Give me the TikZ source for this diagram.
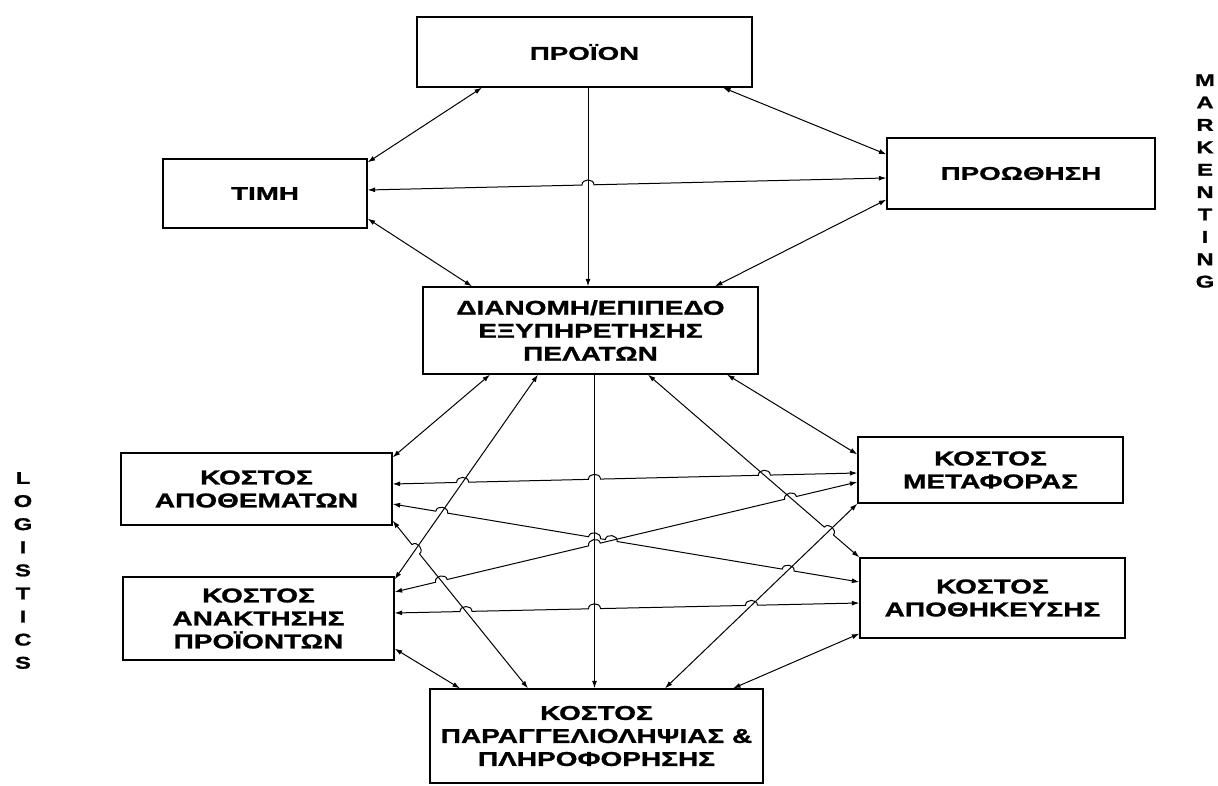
\documentclass[tikz,border=0pt]{standalone}
\usepackage{fontspec}
\newfontfamily\bxa{Liberation Sans}[FakeStretch=1.4,FakeBold=1.2]
\newfontfamily\bxb{Liberation Sans}[FakeStretch=1.5,FakeBold=1.2]
\usetikzlibrary{arrows.meta,calc}
\tikzset{
 box/.style={draw, line width=1.3pt, inner sep=0pt, align=center, font=\bxa\bfseries\fontsize{20}{23}\selectfont},
 topbox/.style={box, font=\bxb\bfseries\fontsize{18.5}{22}\selectfont},
 dbl/.style={{Latex[length=7.5pt,width=5pt]}-{Latex[length=7.5pt,width=5pt]}, line width=1pt},
 one/.style={-{Latex[length=7.5pt,width=5pt]}, line width=1pt},
 side/.style={align=center, font=\bxa\bfseries\fontsize{17}{22.4}\selectfont, inner sep=0pt},
}
\newcommand{\hh}[3]{-- ($(#1)!6pt!(#2)$) to[bend left=90,looseness=1.4] ($(#1)!6pt!(#3)$)}
\begin{document}
\begin{tikzpicture}[x=1pt,y=1pt]
\fill[white] (0,0) rectangle (1218,785);
\useasboundingbox (0,0) rectangle (1218,785);
% boxes
\node[topbox, minimum width=335pt, minimum height=70pt] (pr) at (584.5,733) {ΠΡΟΪΟΝ};
\node[topbox, minimum width=204pt, minimum height=69pt] (ti) at (265,591.5) {ΤΙΜΗ};
\node[topbox, minimum width=268pt, minimum height=71pt] (pro) at (1021,611.5) {ΠΡΟΩΘΗΣΗ};
\node[box, minimum width=335pt, minimum height=87pt] (di) at (590.5,454.5) {ΔΙΑΝΟΜΗ/ΕΠΙΠΕΔΟ\\ΕΞΥΠΗΡΕΤΗΣΗΣ\\ΠΕΛΑΤΩΝ};
\node[box, minimum width=271pt, minimum height=72pt] (ap) at (256.5,296) {ΚΟΣΤΟΣ\\ΑΠΟΘΕΜΑΤΩΝ};
\node[box, minimum width=271pt, minimum height=83pt] (an) at (258.5,166.5) {ΚΟΣΤΟΣ\\ΑΝΑΚΤΗΣΗΣ\\ΠΡΟΪΟΝΤΩΝ};
\node[box, minimum width=265pt, minimum height=66pt] (me) at (990.5,315) {ΚΟΣΤΟΣ\\ΜΕΤΑΦΟΡΑΣ};
\node[box, minimum width=265pt, minimum height=80pt] (ah) at (992.5,187) {ΚΟΣΤΟΣ\\ΑΠΟΘΗΚΕΥΣΗΣ};
\node[box, minimum width=333pt, minimum height=94pt] (pa) at (596.5,49) {ΚΟΣΤΟΣ\\ΠΑΡΑΓΓΕΛΙΟΛΗΨΙΑΣ \&\\ΠΛΗΡΟΦΟΡΗΣΗΣ};
\node[side] (mk) at (1205,604) {M\\A\\R\\K\\E\\N\\T\\I\\N\\G};
\node[side, font=\bxa\bfseries\fontsize{17}{23.1}\selectfont] (lg) at (23,214.5) {L\\O\\G\\I\\S\\T\\I\\C\\S};
% top connectors
\coordinate (p1a) at ([xshift=-102.5pt]pr.south);
\coordinate (p1b) at ([yshift=-4pt]ti.north east);
\coordinate (p2a) at ([xshift=138.5pt]pr.south);
\coordinate (p2b) at ([yshift=-17pt]pro.north west);
\coordinate (p3a) at ([xshift=3.5pt]pr.south);
\coordinate (p3b) at ([xshift=-2.5pt]di.north);
\coordinate (p4a) at ([yshift=3.5pt]ti.east);
\coordinate (p4b) at ([yshift=-4.5pt]pro.west);
\coordinate (p5a) at ([yshift=10pt]ti.south east);
\coordinate (p5b) at ([xshift=-118.5pt]di.north);
\coordinate (p6a) at ([yshift=10pt]pro.south west);
\coordinate (p6b) at ([xshift=124.5pt]di.north);
\coordinate (x4) at (intersection of p4a--p4b and p3a--p3b);
\draw[dbl] (p1a) -- (p1b);
\draw[dbl] (p2a) -- (p2b);
\draw[one] (p3a) -- (p3b);
\draw[dbl] (p4a) \hh{x4}{p4a}{p4b} -- (p4b);
\draw[dbl] (p5a) -- (p5b);
\draw[dbl] (p6a) -- (p6b);
% lower connectors
\coordinate (l7a) at ([xshift=-100.5pt]di.south);
\coordinate (l7b) at ([yshift=-5pt]ap.north east);
\coordinate (l8a) at ([xshift=-52.5pt]di.south);
\coordinate (l8b) at ([yshift=-3pt]an.north east);
\coordinate (l9a) at ([xshift=4pt]di.south);
\coordinate (l9b) at ([xshift=-2pt]pa.north);
\coordinate (l10a) at ([xshift=57.5pt]di.south);
\coordinate (l10b) at (ah.north west);
\coordinate (l11a) at ([xshift=136.5pt]di.south);
\coordinate (l11b) at ([yshift=-18pt]me.north west);
\coordinate (l12a) at ([yshift=5pt]ap.east);
\coordinate (l12b) at ([yshift=-3pt]me.west);
\coordinate (l13a) at ([yshift=-15pt]ap.east);
\coordinate (l13b) at ([yshift=16pt]ah.west);
\coordinate (l14a) at ([yshift=26.5pt]an.east);
\coordinate (l14b) at ([yshift=-12pt]me.west);
\coordinate (l15a) at ([yshift=5.5pt]an.east);
\coordinate (l15b) at ([yshift=-5pt]ah.west);
\coordinate (l16a) at ([xshift=68.5pt]pa.north);
\coordinate (l16b) at (me.south west);
\coordinate (l17a) at ([yshift=5pt]ap.south east);
\coordinate (l17b) at ([xshift=-68.5pt]pa.north);
\coordinate (l18a) at ([yshift=12pt]an.south east);
\coordinate (l18b) at ([xshift=-136.5pt]pa.north);
\coordinate (l19a) at ([xshift=136.5pt]pa.north);
\coordinate (l19b) at ([yshift=5pt]ah.south west);
% crossings
\coordinate (x12a) at (intersection of l12a--l12b and l8a--l8b);
\coordinate (x12b) at (intersection of l12a--l12b and l9a--l9b);
\coordinate (x12c) at (intersection of l12a--l12b and l10a--l10b);
\coordinate (x13a) at (intersection of l13a--l13b and l8a--l8b);
\coordinate (x13b) at (intersection of l13a--l13b and l9a--l9b);
\coordinate (x13c) at (intersection of l13a--l13b and l14a--l14b);
\coordinate (x13d) at (intersection of l13a--l13b and l16a--l16b);
\coordinate (x14a) at (intersection of l14a--l14b and l17a--l17b);
\coordinate (x14b) at (intersection of l14a--l14b and l9a--l9b);
\coordinate (x14c) at (intersection of l14a--l14b and l10a--l10b);
\coordinate (x15a) at (intersection of l15a--l15b and l17a--l17b);
\coordinate (x15b) at (intersection of l15a--l15b and l9a--l9b);
\coordinate (x15c) at (intersection of l15a--l15b and l16a--l16b);
\coordinate (x10) at (intersection of l10a--l10b and l16a--l16b);
\coordinate (x17) at (intersection of l17a--l17b and l8a--l8b);
\draw[dbl] (l7a) -- (l7b);
\draw[dbl] (l8a) -- (l8b);
\draw[one] (l9a) -- (l9b);
\draw[dbl] (l10a) \hh{x10}{l10a}{l10b} -- (l10b);
\draw[dbl] (l11a) -- (l11b);
\draw[dbl] (l12a) \hh{x12a}{l12a}{l12b} \hh{x12b}{l12a}{l12b} \hh{x12c}{l12a}{l12b} -- (l12b);
\draw[dbl] (l13a) \hh{x13a}{l13a}{l13b} \hh{x13b}{l13a}{l13b} \hh{x13c}{l13a}{l13b} \hh{x13d}{l13a}{l13b} -- (l13b);
\draw[dbl] (l14a) \hh{x14a}{l14a}{l14b} \hh{x14b}{l14a}{l14b} \hh{x14c}{l14a}{l14b} -- (l14b);
\draw[dbl] (l15a) \hh{x15a}{l15a}{l15b} \hh{x15b}{l15a}{l15b} \hh{x15c}{l15a}{l15b} -- (l15b);
\draw[dbl] (l16a) -- (l16b);
\draw[dbl] (l17a) \hh{x17}{l17a}{l17b} -- (l17b);
\draw[dbl] (l18a) -- (l18b);
\draw[dbl] (l19a) -- (l19b);
\end{tikzpicture}
\end{document}
